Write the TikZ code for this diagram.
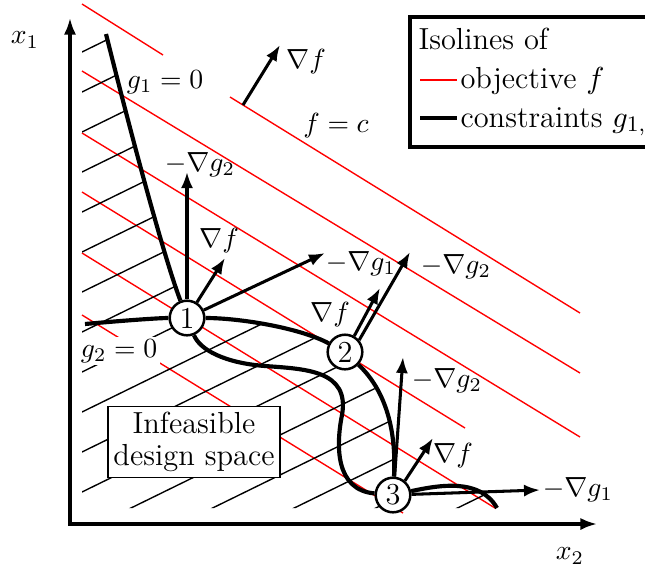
\documentclass[tikz,border=0pt]{standalone}
\usepackage{amsmath,amssymb}
\usepackage{tikz}
\usetikzlibrary{arrows.meta}
\tikzstyle{isoline}=[red,line width=0.5pt]
\tikzstyle{hatchline}=[black,line width=0.5pt]
\tikzstyle{constr}=[line width=1.5pt]
\tikzstyle{grad}=[line width=1.1pt,-{Latex[length=5.8pt,width=4.4pt]}]
\tikzstyle{axisline}=[line width=1.1pt,{Latex[length=6pt,width=4.4pt]}-{Latex[length=6pt,width=4.4pt]}]
\tikzstyle{optpt}=[circle,draw,fill=white,line width=0.9pt,minimum size=12.5pt,inner sep=0pt,font=\fontsize{11}{12}\selectfont]
\tikzstyle{txt}=[font=\fontsize{11}{11.5}\selectfont]

\begin{document}
\begin{tikzpicture}[x=0.0127cm,y=-0.0127cm,font=\fontsize{10}{12}\selectfont]
\clip (0,0) rectangle (645,571);

\coordinate (c1) at (187,318);
\coordinate (c2) at (345,352);
\coordinate (c3) at (393,495);
\coordinate (g1top) at (106,34);
\coordinate (g2left) at (85,324);
\coordinate (tailend) at (497,508);

% isolines of f
\draw[isoline] (82,4) -- (163,55);
\draw[isoline] (230,97) -- (580,313);
\draw[isoline] (82,71) -- (580,373);
\draw[isoline] (82,133) -- (580,437);
\draw[isoline] (82,192) -- (465,428);
\draw[isoline] (82,253) -- (495,508);
\draw[isoline] (82,315) -- (403,513);

% infeasible region
\begin{scope}
\clip (82,34) -- (g1top) .. controls (135,150) and (165,260) .. (c1)
  .. controls (240,318) and (300,328) .. (c2)
  .. controls (380,385) and (397,420) .. (c3)
  .. controls (440,485) and (480,478) .. (tailend) -- (82,508) -- cycle;
\foreach \k in {0,...,17}
  \draw[hatchline] (82,{52+40*\k}) -- ++(700,-343);
\end{scope}

\draw[axisline] (70,18) -- (70,524) -- (597,524);

\node[optpt] (n1) at (c1) {1};
\node[optpt] (n2) at (c2) {2};
\node[optpt] (n3) at (c3) {3};

\draw[constr] (g1top) .. controls (135,150) and (165,260) .. (n1);
\draw[constr] (g2left) .. controls (130,320) and (160,318) .. (n1);
\draw[constr] (n1) .. controls (240,318) and (300,328) .. (n2);
\draw[constr] (n2) .. controls (380,385) and (397,420) .. (n3);
\draw[constr] (n1) .. controls (200,350) and (225,363) .. (265,366)
  .. controls (305,369) and (350,370) .. (342,415)
  .. controls (336,445) and (335,490) .. (n3);
\draw[constr] (n3) .. controls (440,485) and (480,478) .. (tailend);

\coordinate (fbase) at (243,105);
\coordinate (ftip) at (280,45);
\coordinate (t1a) at (187,172);
\coordinate (t1b) at (225,258);
\coordinate (t1c) at (325,253);
\coordinate (t2a) at (380,288);
\coordinate (t2b) at (410,252);
\coordinate (t3a) at (403,357);
\coordinate (t3b) at (433,438);
\coordinate (t3c) at (540,490);

\draw[grad] (fbase) -- (ftip);
\draw[grad] (n1) -- (t1a);
\draw[grad] (n1) -- (t1b);
\draw[grad] (n1) -- (t1c);
\draw[grad] (n2.60) -- (t2a);
\draw[grad] (n2.40) -- (t2b);
\draw[grad] (n3.85) -- (t3a);
\draw[grad] (n3.50) -- (t3b);
\draw[grad] (n3) -- (t3c);

\node (lx1) at (25,40) {$x_1$};
\node (lx2) at (570,556) {$x_2$};
\node (lg1) at (165,82) {$g_1 = 0$};
\node[fill=white,inner sep=1pt] (lg2) at (119,351) {$g_2 = 0$};
\node (lfc) at (336,126) {$f = c$};
\node (lgf) at (306,62) {$\nabla f$};
\node (l1a) at (200,165) {$-\nabla g_2$};
\node (l1b) at (219,241) {$\nabla f$};
\node (l1c) at (361,264) {$-\nabla g_1$};
\node (l2a) at (330,315) {$\nabla f$};
\node (l2b) at (456,267) {$-\nabla g_2$};
\node (l3a) at (447,381) {$-\nabla g_2$};
\node (l3b) at (453,456) {$\nabla f$};
\node (l3c) at (578,490) {$-\nabla g_1$};

\node[txt,draw,fill=white,line width=0.5pt,align=center,inner sep=2pt] (infeas) at (194,442) {Infeasible\\design space};

\draw[line width=1.2pt,fill=white] (410,17) rectangle (700,147);
\node[txt,anchor=base west,inner sep=0pt] (leg0) at (418,49) {Isolines of};
\node[txt,anchor=base west,inner sep=0pt] (leg1) at (460,88) {objective $f$};
\node[txt,anchor=base west,inner sep=0pt] (leg2) at (460,127) {constraints $g_{1,2}$};
\draw[isoline] (420,80) -- (457,80);
\draw[constr] (420,118) -- (457,118);
\end{tikzpicture}
\end{document}
